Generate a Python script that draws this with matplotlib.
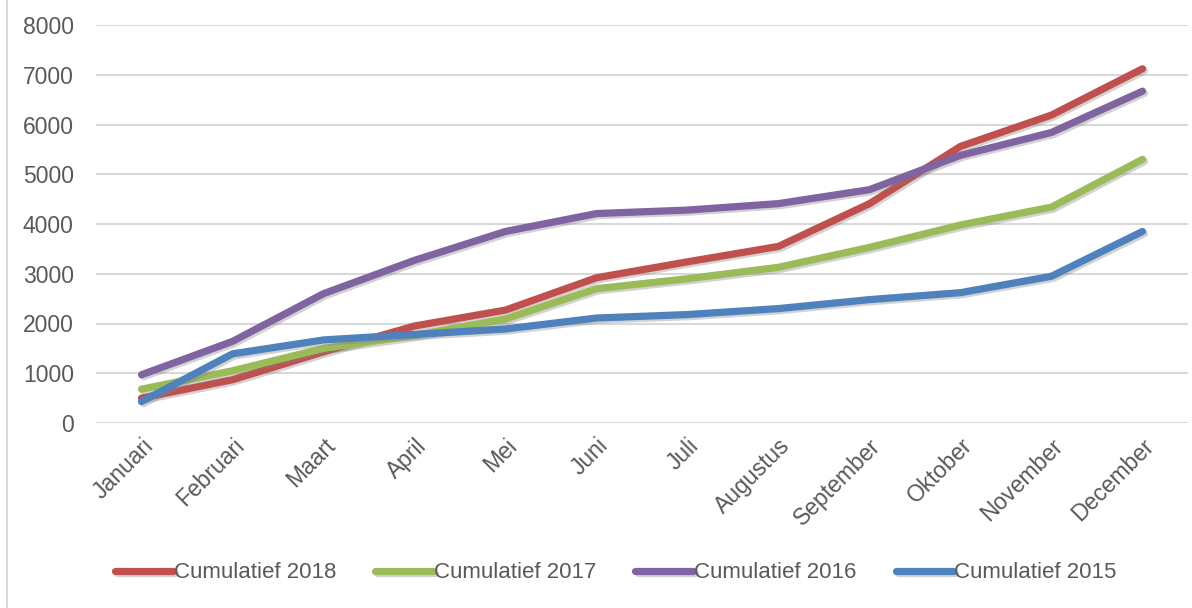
import matplotlib
matplotlib.use("Agg")
import matplotlib.pyplot as plt
import matplotlib.patheffects as pe
from matplotlib.lines import Line2D

plt.rcParams['font.family'] = ['Liberation Sans', 'DejaVu Sans']

months = ['Januari', 'Februari', 'Maart', 'April', 'Mei', 'Juni', 'Juli',
          'Augustus', 'September', 'Oktober', 'November', 'December']

cum_2018 = [500, 870, 1430, 1950, 2270, 2920, 3240, 3550, 4410, 5560, 6190, 7120]
cum_2017 = [680, 1050, 1500, 1760, 2090, 2700, 2900, 3130, 3530, 3980, 4340, 5300]
cum_2016 = [970, 1640, 2600, 3270, 3850, 4210, 4280, 4410, 4690, 5380, 5840, 6670]
cum_2015 = [430, 1390, 1670, 1780, 1890, 2110, 2180, 2300, 2480, 2620, 2950, 3850]

series = [
    ('Cumulatief 2018', cum_2018, '#C0504D'),
    ('Cumulatief 2017', cum_2017, '#9BBB59'),
    ('Cumulatief 2016', cum_2016, '#8064A2'),
    ('Cumulatief 2015', cum_2015, '#4F81BD'),
]

text_color = '#595959'
grid_color = '#D9D9D9'

fig = plt.figure(figsize=(11.92, 6.08), dpi=100)
ax = fig.add_axes([96 / 1192, 1 - 423 / 608, (1188 - 96) / 1192, (423 - 25) / 608])

x = list(range(len(months)))
shadow = [pe.SimpleLineShadow(offset=(1.5, -1.5), shadow_color='gray', alpha=0.35),
          pe.Normal()]
for label, values, color in series:
    ax.plot(x, values, color=color, lw=5.2, solid_capstyle='round',
            solid_joinstyle='round', label=label, path_effects=shadow)

ax.set_xlim(-0.5, len(months) - 0.5)
ax.set_ylim(0, 8000)
ax.set_yticks(range(0, 8001, 1000))
ax.set_xticks(x)
ax.set_xticklabels(months, rotation=45, ha='right', rotation_mode='anchor')
ax.tick_params(axis='both', length=0, labelsize=16.5, labelcolor=text_color)
ax.tick_params(axis='y', pad=16)
ax.tick_params(axis='x', pad=8)
ax.grid(axis='y', color=grid_color, lw=1.5)
ax.set_axisbelow(True)
for s in ax.spines.values():
    s.set_visible(False)

fig.legend(loc='center', bbox_to_anchor=(616 / 1192, 1 - 573 / 608), ncol=4,
           frameon=False, fontsize=16, labelcolor=text_color,
           handlelength=2.6, handletextpad=0.05, columnspacing=1.75)

# chart area border
fig.add_artist(Line2D([7.5 / 1192, 7.5 / 1192], [0, 1], color=grid_color, lw=1.5))

fig.savefig('out.png', dpi=100)
